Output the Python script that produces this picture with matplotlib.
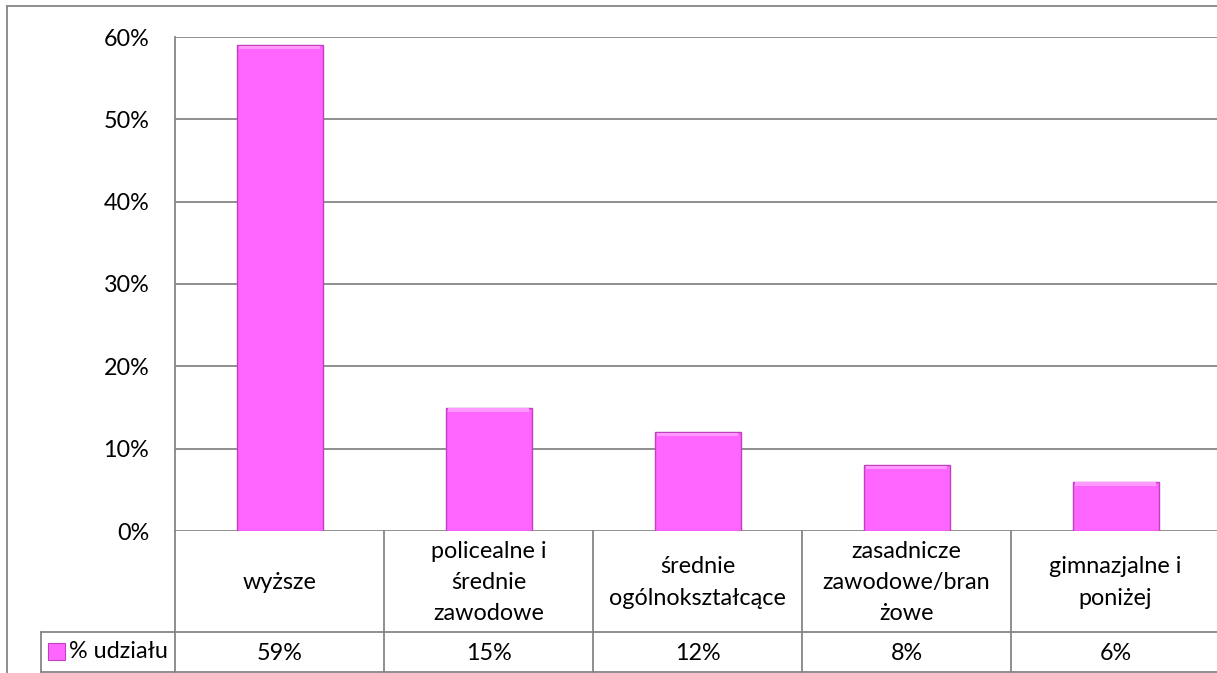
import matplotlib
matplotlib.use("Agg")
import matplotlib.pyplot as plt
from matplotlib.patches import Rectangle
from matplotlib.lines import Line2D

categories = ["wyższe", "policealne i\nśrednie\nzawodowe", "średnie\nogólnokształcące",
              "zasadnicze\nzawodowe/bran\nżowe", "gimnazjalne i\nponiżej"]
values = [59, 15, 12, 8, 6]
series_name = "% udziału"
yticks = [0, 10, 20, 30, 40, 50, 60]

plt.rcParams['font.family'] = ['Lato', 'DejaVu Sans']
FS = 16.8
GRAY = '#868686'
BAR = '#FF66FF'

W, H = 1217, 673
fig = plt.figure(figsize=(W / 100, H / 100), dpi=100)

def fx(px):
    return px / W

def fy(py):
    return 1 - py / H

left, right, top, bottom = 175, 1220, 37, 531
ax = fig.add_axes([fx(left), fy(bottom), fx(right) - fx(left), fy(top) - fy(bottom)])
n = len(categories)
ax.set_xlim(0, n)
ax.set_ylim(0, 60)
ax.set_yticks(yticks)
ax.set_yticklabels([f"{t}%" for t in yticks], fontsize=FS)
ax.tick_params(axis='y', length=0, pad=18.5)
ax.set_xticks([])
for s in ['top', 'right', 'bottom']:
    ax.spines[s].set_visible(False)
ax.spines['left'].set_color(GRAY)
ax.spines['left'].set_linewidth(1.3)
for t in yticks:
    ax.axhline(t, color=GRAY, lw=1.3, zorder=1)

xs = [i + 0.5 for i in range(n)]
ax.bar(xs, values, width=86 / 209, color=BAR, edgecolor='#C040C0', linewidth=1.0, zorder=3)
# bevel highlight
ax.bar(xs, [0.4] * n, bottom=[v - 0.5 for v in values],
       width=86 / 209 * 0.94, color='#FF99FF', linewidth=0, zorder=4)

# Data table
cat_bottom, val_bottom = 632, 672

def hline(x0, x1, y):
    fig.add_artist(Line2D([fx(x0), fx(x1)], [fy(y), fy(y)], color=GRAY, lw=1.3))

def vline(x, y0, y1):
    fig.add_artist(Line2D([fx(x), fx(x)], [fy(y0), fy(y1)], color=GRAY, lw=1.3))

colw = (right - left) / n
hline(41, W + 5, cat_bottom)
hline(41, W + 5, val_bottom)
for i in range(n + 1):
    vline(left + i * colw, bottom, val_bottom)
vline(41, cat_bottom, val_bottom)

for i, (c, v) in enumerate(zip(categories, values)):
    cx = left + (i + 0.5) * colw
    fig.text(fx(cx), fy((bottom + cat_bottom) / 2 + 1), c, ha='center', va='center',
             fontsize=FS, linespacing=1.6)
    fig.text(fx(cx), fy((cat_bottom + val_bottom) / 2 + 1), f"{v}%", ha='center', va='center',
             fontsize=FS)

# legend key
fig.add_artist(Rectangle((fx(48), fy(660)), fx(17), fy(643) - fy(660), facecolor=BAR,
                         edgecolor='#C040C0', lw=0.8))
fig.text(fx(69), fy(652), series_name, ha='left', va='center', fontsize=FS)

# outer chart border
fig.add_artist(Line2D([fx(7), fx(7)], [fy(6), fy(H + 5)], color=GRAY, lw=1.3))
fig.add_artist(Line2D([fx(7), fx(W + 5)], [fy(6), fy(6)], color=GRAY, lw=1.3))

fig.savefig("out.png", dpi=100)
